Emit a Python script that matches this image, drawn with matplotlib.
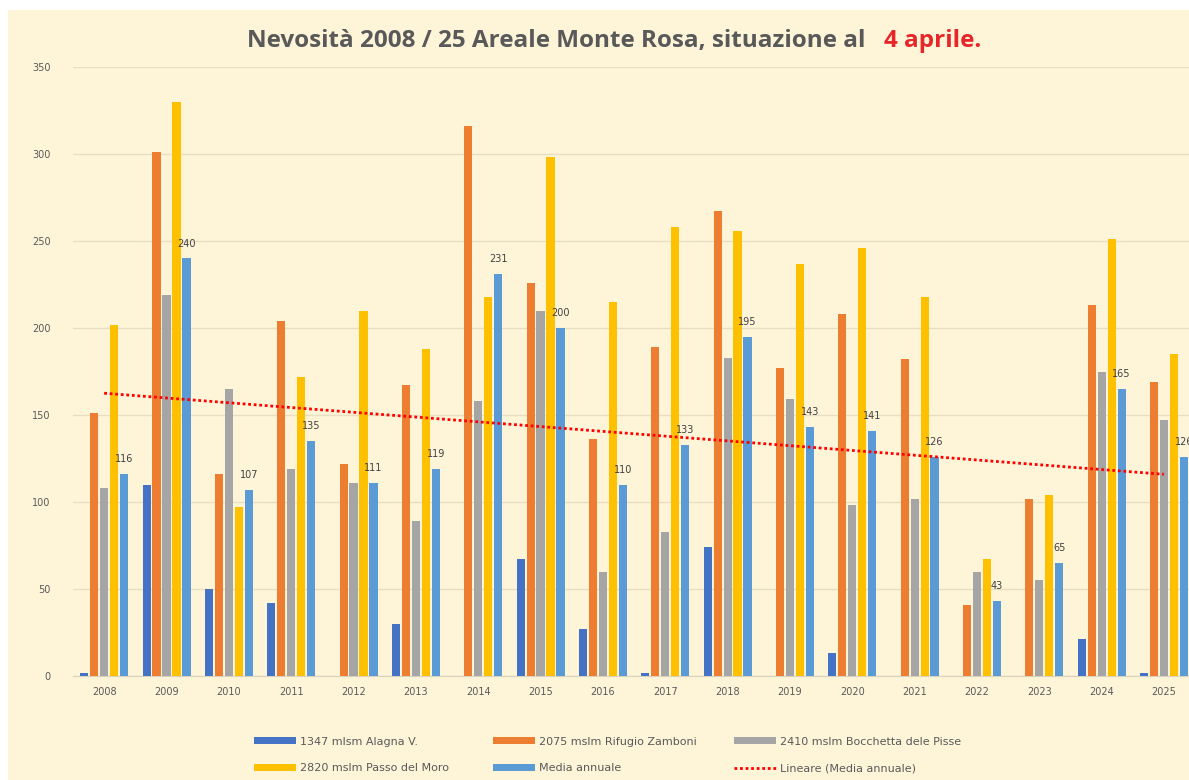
import matplotlib.pyplot as plt
import numpy as np
from matplotlib.patches import Rectangle, Patch
from matplotlib.lines import Line2D

# dati (cm di neve al 4 aprile)
anni = [str(a) for a in range(2008, 2026)]
alagna = [2, 110, 50, 42, 0, 30, 0, 67, 27, 2, 74, 0, 13, 0, 0, 0, 21, 2]
zamboni = [151, 301, 116, 204, 122, 167, 316, 226, 136, 189, 267, 177, 208, 182, 41, 102, 213, 169]
bocchetta = [108, 219, 165, 119, 111, 89, 158, 210, 60, 83, 183, 159, 98, 102, 60, 55, 175, 147]
moro = [202, 330, 97, 172, 210, 188, 218, 298, 215, 258, 256, 237, 246, 218, 67, 104, 251, 185]
media = [116, 240, 107, 135, 111, 119, 231, 200, 110, 133, 195, 143, 141, 126, 43, 65, 165, 126]

nomi = ["1347 mlsm Alagna V.", "2075 mslm Rifugio Zamboni", "2410 mslm Bocchetta dele Pisse",
        "2820 mslm Passo del Moro", "Media annuale"]
colori = ["#4472C4", "#ED7D31", "#A5A5A5", "#FFC000", "#5B9BD5"]
crema = "#FEF4D8"
grigio = "#595959"

W, H = 1189, 780
fig = plt.figure(figsize=(W / 100, H / 100), dpi=100)
fig.patch.set_facecolor("white")
fig.add_artist(Rectangle((8 / W, 0), 1, 1 - 10 / H, transform=fig.transFigure,
                         facecolor=crema, edgecolor="none", zorder=-10))

ax = fig.add_axes([73 / W, 1 - 676 / H, 1 - 73 / W, (676 - 67) / H])
ax.set_facecolor(crema)

x = np.arange(len(anni))
serie = [alagna, zamboni, bocchetta, moro, media]
handles = []
for k, (vals, col, nome) in enumerate(zip(serie, colori, nomi)):
    ax.bar(x + (k - 2) * 0.16, vals, width=0.13, color=col, zorder=3)
    handles.append(Patch(facecolor=col, edgecolor="none", label=nome))

for xi, v in zip(x, media):
    ax.annotate(str(v), (xi + 0.32, v), xytext=(0, 7), textcoords="offset points",
                ha="center", va="bottom", fontsize=7, color="#404040", zorder=5)

# linea di tendenza lineare sulla media annuale
coef = np.polyfit(x, media, 1)
ax.plot(x, np.polyval(coef, x), color="#FF0000", lw=2, linestyle=(0, (1, 1)), zorder=4)
handles.append(Line2D([], [], color="#FF0000", lw=2, linestyle=(0, (1, 1)),
                      label="Lineare (Media annuale)"))

ax.set_xlim(-0.5, (W - 104) / 62.35)
ax.set_ylim(0, 350)
ax.set_yticks(range(0, 351, 50))
ax.set_xticks(x)
ax.set_xticklabels(anni)
ax.tick_params(length=0, labelsize=7, labelcolor=grigio)
ax.tick_params(axis="y", pad=16)
ax.tick_params(axis="x", pad=8)
ax.grid(axis="y", color="#E8DEC2", lw=1, zorder=0)
for s in ["top", "left", "right"]:
    ax.spines[s].set_visible(False)
ax.spines["bottom"].set_color("#D9D2BD")

# titolo in due colori
fig.text(872 / W, 1 - 41 / H, "Nevosità 2008 / 25 Areale Monte Rosa, situazione al ",
         ha="right", va="center", fontsize=17.5, fontweight="bold", family="Open Sans", color=grigio)
fig.text(884 / W, 1 - 41 / H, "4 aprile.", ha="left", va="center",
         fontsize=17.5, fontweight="bold", family="Open Sans", color="#E8262A")

# legenda su tre colonne
colonne = [(248, [handles[0], handles[3]]), (487, [handles[1], handles[4]]),
           (728, [handles[2], handles[5]])]
for px, hh in colonne:
    fig.legend(handles=hh, loc="upper left", bbox_to_anchor=(px / W, 1 - 731 / H),
               frameon=False, fontsize=8, labelcolor=grigio, borderpad=0,
               handlelength=3.8, handleheight=0.6, handletextpad=0.4, labelspacing=1.5)

fig.savefig("out.png", dpi=100, facecolor=fig.get_facecolor())
